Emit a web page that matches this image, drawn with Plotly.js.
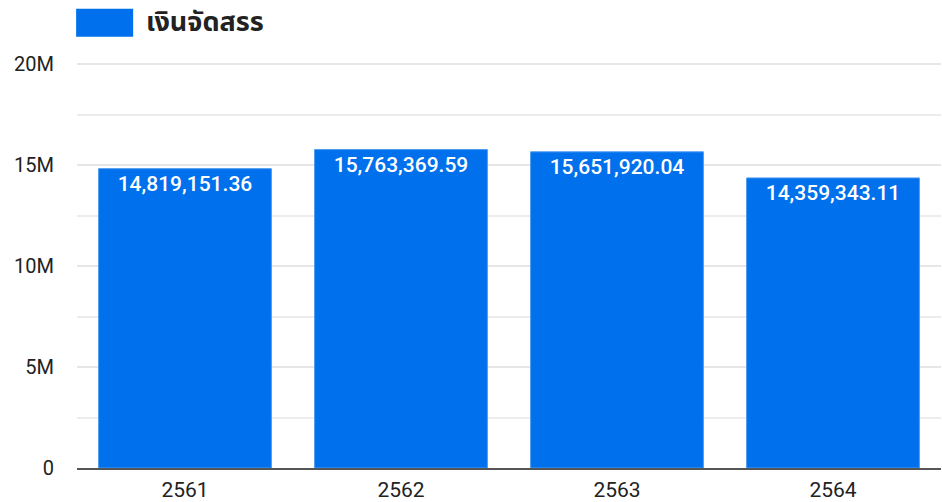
<!DOCTYPE html>
<html><head><meta charset="utf-8">
<script src="https://cdn.plot.ly/plotly-3.0.1.min.js"></script>
<style>html,body{margin:0;padding:0;background:#fff}#c{width:942px;height:502px}</style>
</head><body><div id="c"></div>
<script>
const years = ['2561', '2562', '2563', '2564'];
const budget = [14819151.36, 15763369.59, 15651920.04, 14359343.11];
const seriesName = 'เงินจัดสรร';
const yTickVals = [0, 5000000, 10000000, 15000000, 20000000];
const yTickText = ['0', '5M', '10M', '15M', '20M'];

const trace = {
  type: 'bar', x: years, y: budget, name: seriesName,
  marker: {color: '#0070ec', line: {color: '#4a9af0', width: 1}},
  texttemplate: '%{y:,.2f}', textposition: 'inside', insidetextanchor: 'end',
  textangle: 0, constraintext: 'none',
  textfont: {family: 'Roboto, sans-serif', size: 21, weight: 500, color: '#ffffff'},
  hoverinfo: 'none'
};
const layout = {
  width: 942, height: 502,
  margin: {l: 77, r: 1, t: 63, b: 34},
  paper_bgcolor: '#fff', plot_bgcolor: '#fff',
  showlegend: false, bargap: 0.2,
  font: {family: 'Roboto, sans-serif', size: 20, color: '#222'},
  xaxis: {type: 'category', showgrid: false, showline: true, linecolor: '#555', linewidth: 2,
          ticks: '', tickfont: {size: 21, color: '#222'}, ticklabelstandoff: 2},
  yaxis: {range: [0, 20050000], tickvals: yTickVals, ticktext: yTickText, showgrid: true,
          gridcolor: '#e6e6e6', gridwidth: 2, zeroline: false, ticks: '', ticklabelstandoff: 22,
          tickfont: {size: 20, color: '#222'},
          minor: {dtick: 2500000, tick0: 0, showgrid: true, gridcolor: '#ececec', gridwidth: 2}},
  shapes: [{type: 'rect', xref: 'paper', yref: 'paper', x0: -0.001, x1: 0.065, y0: 1.065, y1: 1.134,
            fillcolor: '#0070ec', line: {width: 0}}],
  annotations: [{xref: 'paper', yref: 'paper', x: 0.078, y: 1.1, xanchor: 'left', yanchor: 'middle',
                 text: '<b>' + seriesName + '</b>', showarrow: false,
                 font: {family: 'Tahoma, "Noto Sans Thai", "Noto Sans", sans-serif', size: 27, color: '#222'}}]
};
Plotly.newPlot('c', [trace], layout, {displayModeBar: false, staticPlot: true});
</script></body></html>
